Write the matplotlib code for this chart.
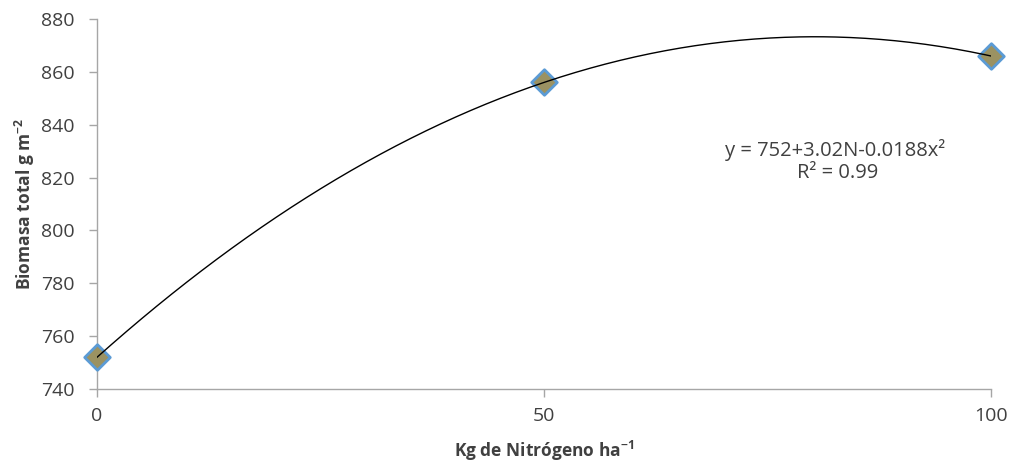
import numpy as np
import matplotlib
matplotlib.use("Agg")
import matplotlib.pyplot as plt

nitrogen = [0, 50, 100]
biomasa = [752, 856, 866]
x_ticks = [0, 50, 100]
y_ticks = [740, 760, 780, 800, 820, 840, 860, 880]

plt.rcParams['font.family'] = ['Open Sans', 'DejaVu Sans']
plt.rcParams['axes.unicode_minus'] = False
txt = '#404040'
spine = '#a6a6a6'

fig = plt.figure(figsize=(10.34, 4.66), dpi=100)
ax = fig.add_axes([97/1034, (466-389)/466, (991-97)/1034, (389-19)/466])

coef = np.polyfit(nitrogen, biomasa, 2)
xs = np.linspace(0, 100, 300)
ax.plot(xs, np.polyval(coef, xs), color='black', lw=1.0, zorder=4)
ax.scatter(nitrogen, biomasa, marker='D', s=170, facecolor='#9b9262',
           edgecolor='#5b9bd5', linewidths=2, zorder=3, clip_on=False)

ax.set_xlim(0, 100)
ax.set_ylim(740, 880)
ax.set_xticks(x_ticks)
ax.set_yticks(y_ticks)
for s in ['top', 'right']:
    ax.spines[s].set_visible(False)
for s in ['left', 'bottom']:
    ax.spines[s].set_color(spine)
    ax.spines[s].set_linewidth(1.0)
ax.tick_params(axis='both', colors=spine, labelcolor=txt, labelsize=14, length=6, width=1)
ax.tick_params(axis='x', pad=7)
ax.tick_params(axis='y', pad=10)

ax.set_xlabel('Kg de Nitrógeno ha$^{\\mathregular{-1}}$', fontsize=12.5, fontweight='bold', color=txt, labelpad=10)
ax.set_ylabel('Biomasa total g m$^{\\mathregular{-2}}$', fontsize=12.5, fontweight='bold', color=txt, labelpad=3)

fig.text(835/1034, 1-150/466, 'y = 752+3.02N-0.0188x²', ha='center', va='center', fontsize=14.5, color=txt)
fig.text(838/1034, 1-173/466, 'R² = 0.99', ha='center', va='center', fontsize=14.5, color=txt)

fig.savefig('out.png', dpi=100)
